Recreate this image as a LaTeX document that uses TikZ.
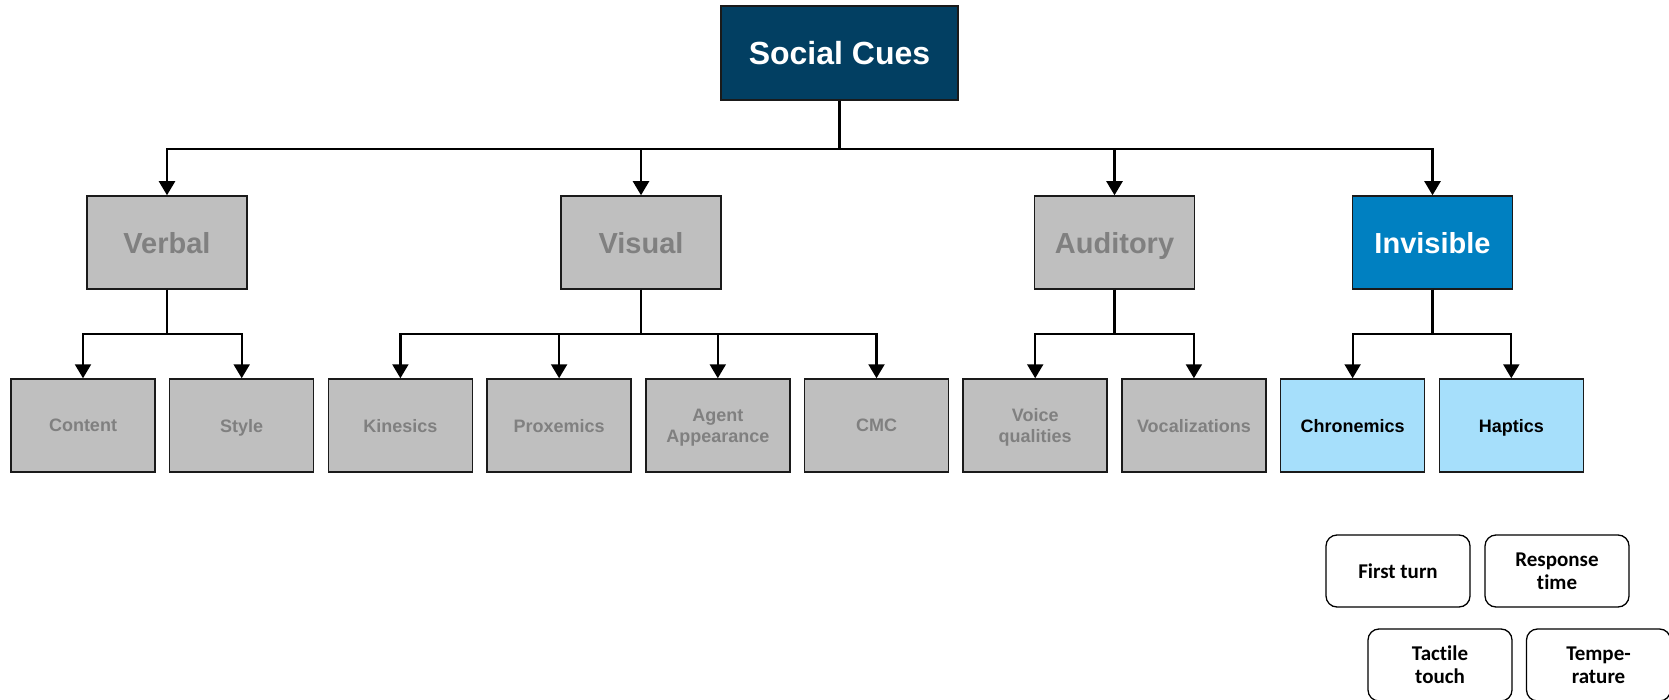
\documentclass[tikz,border=0pt]{standalone}
\usepackage{fontspec}
\setmainfont{Liberation Sans}
\newfontfamily\calibrifont[Ligatures=NoCommon]{Carlito}
\usetikzlibrary{arrows.meta}

\definecolor{rootblue}{HTML}{023F62}
\definecolor{invblue}{HTML}{0080C1}
\definecolor{lightblue}{HTML}{A6DFFB}
\definecolor{boxgray}{HTML}{BFBFBF}
\definecolor{textgray}{HTML}{808080}
\definecolor{edge}{HTML}{1A1A1A}

\tikzset{
  box/.style={draw=edge, line width=1.5pt, inner sep=2pt, align=center,
    text depth=0pt, font=\bfseries},
  root/.style={box, fill=rootblue, text=white, minimum width=237pt,
    minimum height=94pt, font=\bfseries\fontsize{32}{38}\selectfont},
  midbox/.style={box, minimum width=160pt, minimum height=93pt,
    font=\bfseries\fontsize{29}{34}\selectfont},
  graymid/.style={midbox, fill=boxgray, text=textgray},
  bluemid/.style={midbox, fill=invblue, text=white},
  leaf/.style={box, minimum width=144pt, minimum height=93pt,
    font=\bfseries\fontsize{18}{21}\selectfont},
  grayleaf/.style={leaf, fill=boxgray, text=textgray},
  blueleaf/.style={leaf, fill=lightblue, text=black},
  cuebox/.style={draw=black, line width=1.3pt, rounded corners=11pt,
    fill=white, minimum width=144pt, minimum height=72pt, align=center,
    text depth=0pt,
    font=\calibrifont\bfseries\fontsize{21}{23}\selectfont},
  conn/.style={draw=black, line width=2.2pt,
    -{Triangle[width=16pt,length=14pt]}},
}

\begin{document}
\begin{tikzpicture}[x=1pt,y=-1pt]
  \clip (0,0) rectangle (1669,700);
  \fill[white] (0,0) rectangle (1669,700);

  % root
  \node[root] (sc) at (839.5,53) {Social Cues};

  % second level
  \node[graymid] (verbal)   at (167,242.5)    {Verbal};
  \node[graymid] (visual)   at (641,242.5)    {Visual};
  \node[graymid] (auditory) at (1114.5,242.5) {Auditory};
  \node[bluemid] (invis)    at (1432.5,242.5) {Invisible};

  % leaves
  \node[grayleaf] (content) at (83,425.5)     {Content};
  \node[grayleaf] (style)   at (241.7,425.5)  {Style};
  \node[grayleaf] (kin)     at (400.4,425.5)  {Kinesics};
  \node[grayleaf] (prox)    at (559.1,425.5)  {Proxemics};
  \node[grayleaf] (agent)   at (717.8,425.5)  {Agent\\Appearance};
  \node[grayleaf] (cmc)     at (876.5,425.5)  {CMC};
  \node[grayleaf] (voice)   at (1035.2,425.5) {Voice\\qualities};
  \node[grayleaf] (vocal)   at (1193.9,425.5) {Vocalizations};
  \node[blueleaf] (chron)   at (1352.6,425.5) {Chronemics};
  \node[blueleaf] (hapt)    at (1511.3,425.5) {Haptics};

  % rounded cue boxes
  \node[cuebox] (first)  at (1398,571)   {First turn};
  \node[cuebox] (resp)   at (1557,571)   {Response\\time};
  \node[cuebox] (tact)   at (1440,665)   {Tactile\\touch};
  \node[cuebox] (temp)   at (1598.5,665) {Tempe-\\rature};

  % connectors: root to second level
  \foreach \n in {verbal,visual,auditory,invis}
    \draw[conn] (sc.south) -- (sc.south |- 0,149) -| (\n.north);

  % connectors: second level to leaves
  \foreach \p/\c in {verbal/content,verbal/style,
                     visual/kin,visual/prox,visual/agent,visual/cmc,
                     auditory/voice,auditory/vocal,
                     invis/chron,invis/hapt}
    \draw[conn] (\p.south) -- (\p.south |- 0,334) -| (\c.north);
\end{tikzpicture}
\end{document}
